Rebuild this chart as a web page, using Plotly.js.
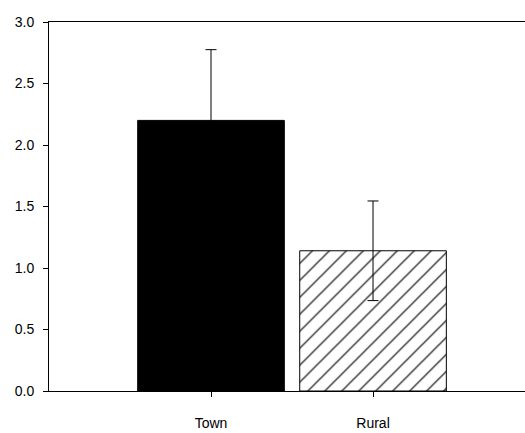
<!DOCTYPE html>
<html>
<head>
<meta charset="utf-8">
<script src="https://cdn.plot.ly/plotly-3.0.1.min.js"></script>
<style>
  html, body { margin: 0; padding: 0; background: #fff; }
  #chart { width: 525px; height: 433px; }
</style>
</head>
<body>
<div id="chart"></div>
<script>
const categories = ['Town', 'Rural'];
const means = [2.20, 1.14];
const errors = [0.575, 0.405];
const yTickVals = [0, 0.5, 1.0, 1.5, 2.0, 2.5, 3.0];
const yTickText = ['0.0', '0.5', '1.0', '1.5', '2.0', '2.5', '3.0'];

const errStyle = { type: 'data', visible: true, color: 'black', thickness: 1, width: 5.5 };

const townTrace = {
  type: 'bar',
  x: [0],
  y: [means[0]],
  width: 0.905,
  marker: { color: 'black', line: { color: 'black', width: 1 } },
  error_y: Object.assign({ array: [errors[0]] }, errStyle),
  hoverinfo: 'none'
};

const ruralTrace = {
  type: 'bar',
  x: [1],
  y: [means[1]],
  width: 0.905,
  marker: {
    color: 'white',
    line: { color: 'black', width: 1 },
    pattern: { shape: '/', fgcolor: 'black', bgcolor: 'white', size: 12, solidity: 0.1, fillmode: 'replace' }
  },
  error_y: Object.assign({ array: [errors[1]] }, errStyle),
  hoverinfo: 'none'
};

const layout = {
  width: 525,
  height: 433,
  barmode: 'overlay',
  margin: { l: 49, r: 0, t: 22, b: 42 },
  paper_bgcolor: 'white',
  plot_bgcolor: 'white',
  showlegend: false,
  font: { family: 'Liberation Sans, Arial, sans-serif', size: 14, color: 'black' },
  xaxis: {
    range: [-1.0, 1.938],
    tickvals: [0, 1],
    ticktext: categories,
    ticks: 'outside',
    ticklen: 5,
    tickcolor: 'black',
    tickwidth: 1,
    showline: true,
    linecolor: 'black',
    linewidth: 1,
    mirror: true,
    showgrid: false,
    zeroline: false,
    ticklabelstandoff: 14,
    tickfont: { size: 14 }
  },
  yaxis: {
    range: [0, 3.0],
    tickvals: yTickVals,
    ticktext: yTickText,
    ticks: 'outside',
    ticklen: 5,
    tickcolor: 'black',
    tickwidth: 1,
    showline: true,
    linecolor: 'black',
    linewidth: 1,
    showgrid: false,
    zeroline: false,
    ticklabelstandoff: 6,
    tickfont: { size: 14 }
  }
};

Plotly.newPlot('chart', [townTrace, ruralTrace], layout, { staticPlot: true, displayModeBar: false });
</script>
</body>
</html>
